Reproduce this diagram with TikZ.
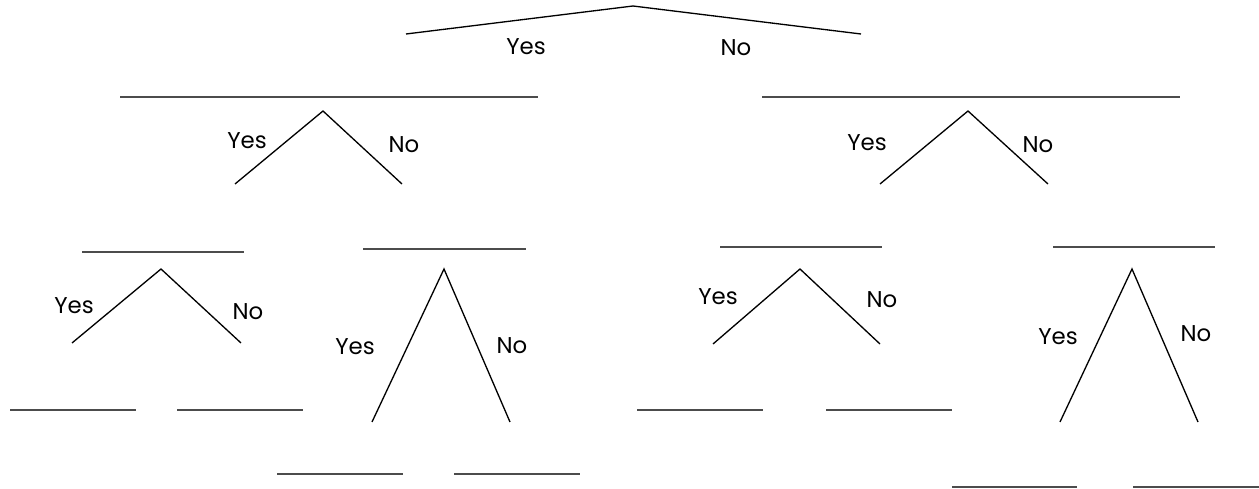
\documentclass[tikz,border=0pt]{standalone}
\usepackage{fontspec}
\setmainfont{Poppins}
\begin{document}
\begin{tikzpicture}[x=0.02cm, y=-0.02cm,
    every node/.style={inner sep=0pt, font=\fontsize{13}{15}\selectfont},
    bar/.style={draw=black!70, line width=1.2pt},
    branch/.style={draw=black, line width=0.75pt}]
    \useasboundingbox (0,0) rectangle (1259,489);

    % Answer bars
    \foreach \n/\a/\b/\y in {b1/120/538/97, b2/762/1180/97,
        b3/82/244/252, b4/363/526/249, b5/720/882/247, b6/1053/1215/247,
        b7/10/136/410, b8/177/303/410, b9/637/763/410, b10/826/952/410,
        b11/277/403/474, b12/454/580/474, b13/952/1077/487, b14/1133/1259/487}
    {
        \coordinate (\n a) at (\a,\y); \coordinate (\n b) at (\b,\y);
        \draw[bar] (\n a)--(\n b);
    }

    % Root
    \coordinate (t0) at (633,6); \coordinate (t0y) at (406,34); \coordinate (t0n) at (861,34);
    \draw[branch] (t0y)--(t0)--(t0n);
    \node (l0y) at (526,47) {Yes}; \node (l0n) at (736,48) {No};

    % Left
    \coordinate (t1) at (323,111); \coordinate (t1y) at (235,184); \coordinate (t1n) at (402,184);
    \draw[branch] (t1y)--(t1)--(t1n);
    \node (l1y) at (247,141) {Yes}; \node (l1n) at (404,145) {No};

    % Right
    \coordinate (t2) at (968,111); \coordinate (t2y) at (880,184); \coordinate (t2n) at (1048,184);
    \draw[branch] (t2y)--(t2)--(t2n);
    \node (l2y) at (867,143) {Yes}; \node (l2n) at (1038,145) {No};

    % Left-left
    \coordinate (t3) at (161,269); \coordinate (t3y) at (72,343); \coordinate (t3n) at (241,343);
    \draw[branch] (t3y)--(t3)--(t3n);
    \node (l3y) at (74,306) {Yes}; \node (l3n) at (248,312) {No};

    % Left-right
    \coordinate (t4) at (444,269); \coordinate (t4y) at (372,422); \coordinate (t4n) at (510,422);
    \draw[branch] (t4y)--(t4)--(t4n);
    \node (l4y) at (355,347) {Yes}; \node (l4n) at (512,346) {No};

    % Right-left
    \coordinate (t5) at (800,269); \coordinate (t5y) at (713,344); \coordinate (t5n) at (880,344);
    \draw[branch] (t5y)--(t5)--(t5n);
    \node (l5y) at (718,297) {Yes}; \node (l5n) at (882,300) {No};

    % Right-right
    \coordinate (t6) at (1132,269); \coordinate (t6y) at (1060,422); \coordinate (t6n) at (1198,422);
    \draw[branch] (t6y)--(t6)--(t6n);
    \node (l6y) at (1058,337) {Yes}; \node (l6n) at (1196,334) {No};
\end{tikzpicture}
\end{document}
